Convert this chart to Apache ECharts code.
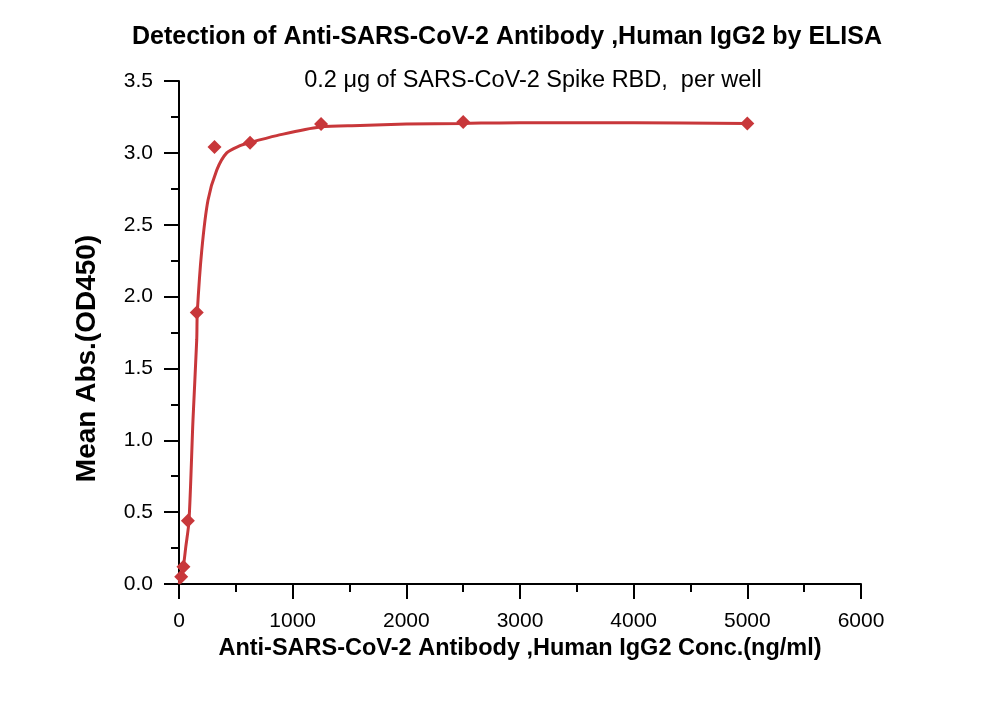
<!DOCTYPE html>
<html>
<head>
<meta charset="utf-8">
<script src="https://cdn.jsdelivr.net/npm/echarts@6/dist/echarts.min.js"></script>
<style>html,body{margin:0;padding:0;background:#fff}#c{width:1000px;height:702px}</style>
</head>
<body>
<div id="c"></div>
<script>
const concX = [19.5, 39, 78, 156, 312.5, 625, 1250, 2500, 5000];
const meanAbs = [0.05, 0.12, 0.44, 1.89, 3.04, 3.07, 3.20, 3.215, 3.205];
const curveX = [0, 20, 40, 60, 88, 123, 156, 161, 200, 255, 332, 420, 537, 616, 860, 1240, 1592, 2000, 2500, 3000, 4000, 5000];
const curveY = [0.0, 0.05, 0.13, 0.26, 0.44, 1.14, 1.70, 1.89, 2.32, 2.67, 2.88, 3.00, 3.05, 3.07, 3.12, 3.18, 3.19, 3.20, 3.205, 3.21, 3.21, 3.205];
const xTicks = {min: 0, max: 6000, step: 1000};
const yTicks = {min: 0, max: 3.5, step: 0.5};

const FONT = '"Liberation Sans", Arial, sans-serif';
const red = '#c8373a';
const chart = echarts.init(document.getElementById('c'), null, {renderer: 'canvas'});
chart.setOption({
  animation: false,
  backgroundColor: '#fff',
  title: [{
    text: 'Detection of Anti-SARS-CoV-2 Antibody ,Human IgG2 by ELISA',
    left: 502, top: 20, textAlign: 'center',
    textStyle: {fontFamily: FONT, fontWeight: 'bold', fontSize: 25, color: '#000'}
  }, {
    text: '0.2 μg of SARS-CoV-2 Spike RBD,  per well',
    left: 528, top: 64, textAlign: 'center',
    textStyle: {fontFamily: FONT, fontWeight: 'normal', fontSize: 23.5, color: '#000'}
  }],
  grid: {left: 179, right: 139, top: 81, bottom: 118, containLabel: false},
  xAxis: {
    type: 'value', min: xTicks.min, max: xTicks.max, interval: xTicks.step,
    name: 'Anti-SARS-CoV-2 Antibody ,Human IgG2 Conc.(ng/ml)',
    nameLocation: 'middle', nameGap: 51,
    nameTextStyle: {fontFamily: FONT, fontWeight: 'bold', fontSize: 23.5, color: '#000'},
    axisLine: {show: true, onZero: false, lineStyle: {color: '#000', width: 2}},
    axisTick: {show: true, length: 15, lineStyle: {color: '#000', width: 2}},
    minorTick: {show: true, splitNumber: 2, length: 8, lineStyle: {color: '#000', width: 2}},
    axisLabel: {fontFamily: FONT, fontSize: 21, color: '#000', margin: 27, formatter: v => String(v)},
    splitLine: {show: false}
  },
  yAxis: {
    type: 'value', min: yTicks.min, max: yTicks.max, interval: yTicks.step,
    name: 'Mean Abs.(OD450)',
    nameLocation: 'middle', nameGap: 78,
    nameTextStyle: {fontFamily: FONT, fontWeight: 'bold', fontSize: 28, color: '#000', padding: [0, 52, 0, 0]},
    axisLine: {show: true, onZero: false, lineStyle: {color: '#000', width: 2}},
    axisTick: {show: true, length: 15, lineStyle: {color: '#000', width: 2}},
    minorTick: {show: true, splitNumber: 2, length: 8, lineStyle: {color: '#000', width: 2}},
    axisLabel: {fontFamily: FONT, fontSize: 21, color: '#000', margin: 26, formatter: v => v.toFixed(1)},
    splitLine: {show: false}
  },
  series: [{
    type: 'line', smooth: 0.3, showSymbol: false, symbol: 'none',
    data: curveX.map((x, i) => [x, curveY[i]]),
    lineStyle: {color: red, width: 3}, z: 2
  }, {
    type: 'scatter', symbol: 'diamond', symbolSize: 14,
    data: concX.map((x, i) => [x, meanAbs[i]]),
    itemStyle: {color: red, opacity: 1}, z: 3
  }]
});
</script>
</body>
</html>
